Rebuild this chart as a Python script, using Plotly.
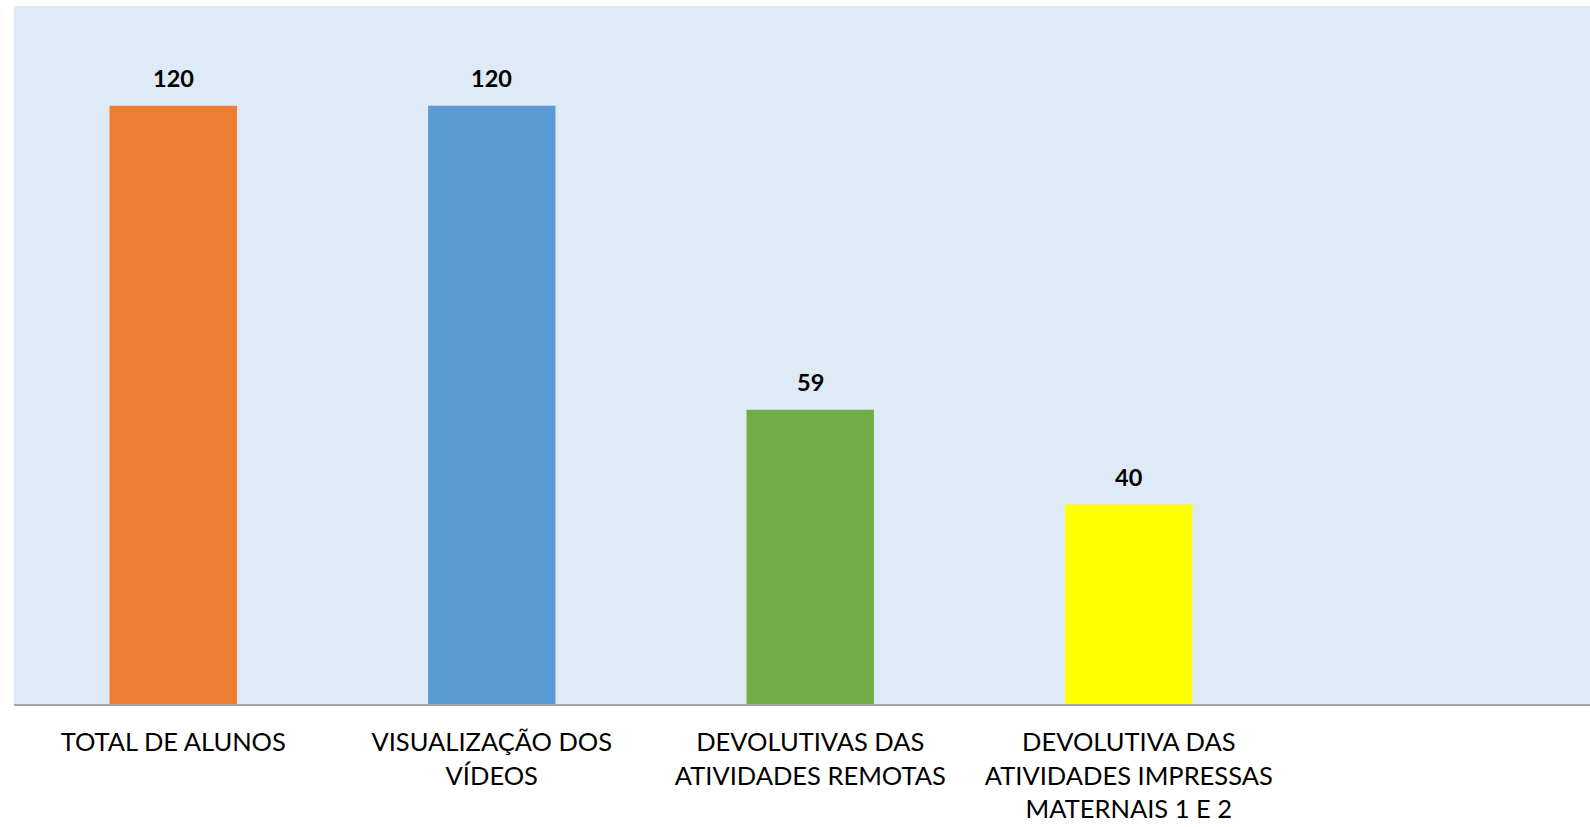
import plotly.graph_objects as go

categories = [
    "TOTAL DE ALUNOS",
    "VISUALIZAÇÃO DOS<br>VÍDEOS",
    "DEVOLUTIVAS DAS<br>ATIVIDADES REMOTAS",
    "DEVOLUTIVA DAS<br>ATIVIDADES IMPRESSAS<br>MATERNAIS 1 E 2",
    " ",
]
values = [120, 120, 59, 40, None]
bar_colors = ["#ED7D31", "#5B9BD5", "#70AD47", "#FFFF00", "#FFFFFF"]
label_texts = ["120", "120", "59", "40"]

FONT = "Lato"

fig = go.Figure()
fig.add_trace(go.Bar(
    x=categories,
    y=values,
    marker=dict(color=bar_colors, line=dict(width=0)),
    width=0.4,
    hoverinfo="skip",
))

for cat, v, t in zip(categories, values, label_texts):
    fig.add_annotation(
        x=cat, y=v, text=f"<b>{t}</b>", showarrow=False,
        yanchor="bottom", yshift=12,
        font=dict(family=FONT, size=23.5, color="#000000"),
    )

fig.update_layout(
    width=1590, height=827,
    margin=dict(l=14, r=0, t=6, b=123),
    paper_bgcolor="#FFFFFF",
    plot_bgcolor="#DEEAF6",
    showlegend=False,
    font=dict(family=FONT, size=25.5, color="#000000"),
)
fig.update_xaxes(
    type="category",
    range=[-0.5, 4.448],
    showline=True, linecolor="#A6A6A6", linewidth=1.5,
    ticks="", showgrid=False, zeroline=False,
    ticklabelstandoff=15,
    tickfont=dict(family=FONT, size=25.5, color="#000000"),
)
fig.update_yaxes(
    range=[0, 140], showticklabels=False, showgrid=False,
    zeroline=False, showline=False, ticks="",
)

fig.write_html(
    "out.html",
    config={"displayModeBar": False},
    post_script="document.body.style.margin='0';document.body.style.overflow='hidden';",
)
